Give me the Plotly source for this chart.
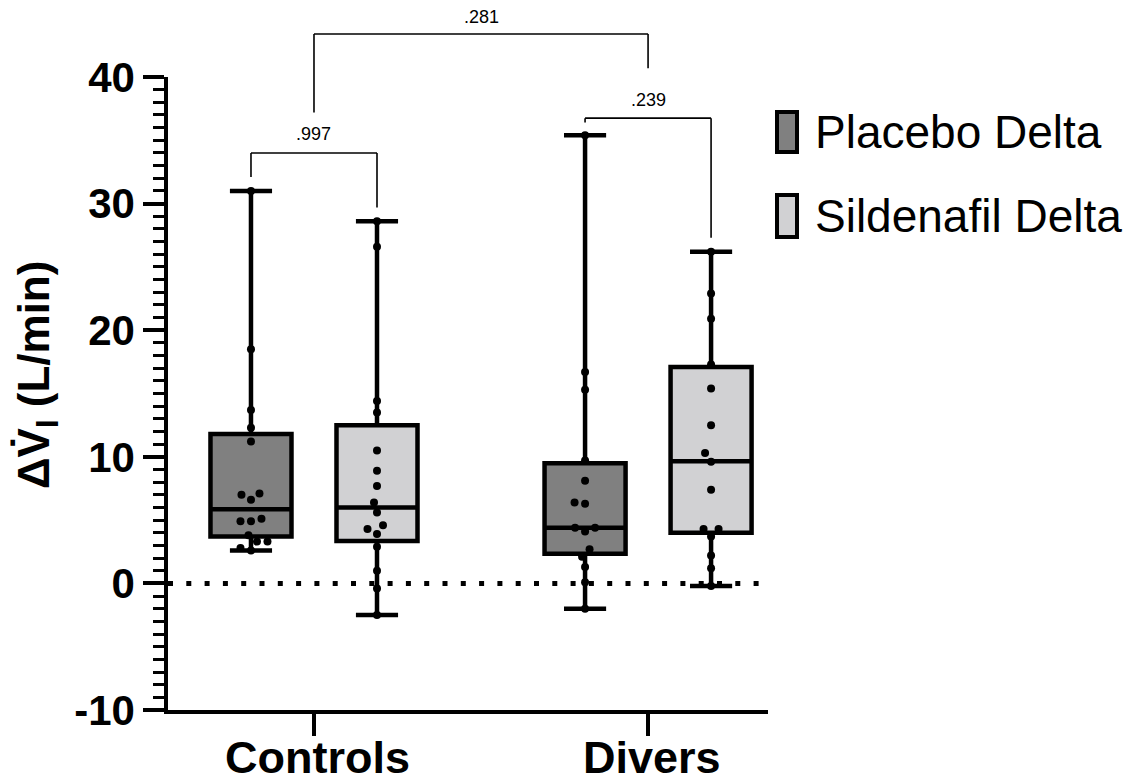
import plotly.graph_objects as go

# ---------------- data ----------------
groups = ["Controls", "Divers"]
series_names = ["Placebo Delta", "Sildenafil Delta"]

ctrl_placebo = [31.0, 18.5, 13.7, 12.3, 11.2, 7.1, 7.0, 6.6, 5.1, 4.9, 4.9, 3.8, 3.3, 3.3, 2.8, 2.6]
ctrl_sildenafil = [28.6, 26.6, 14.4, 13.5, 10.5, 8.9, 7.7, 6.4, 5.6, 4.6, 4.3, 3.9, 2.9, 1.0, -0.4, -2.5]
div_placebo = [35.4, 16.7, 15.3, 9.7, 8.1, 6.4, 6.3, 4.4, 4.4, 4.1, 2.7, 2.1, 1.3, 0.1, -2.0]
div_sildenafil = [26.2, 22.9, 20.9, 17.3, 15.4, 12.5, 10.3, 9.6, 7.4, 4.3, 4.3, 3.7, 2.2, 1.2, -0.2]

# box statistics as drawn: [Controls, Divers]
placebo_q1 = [3.7, 2.35]
placebo_median = [5.85, 4.4]
placebo_q3 = [11.8, 9.5]
placebo_min = [2.6, -2.0]
placebo_max = [31.0, 35.4]

sild_q1 = [3.35, 4.0]
sild_median = [6.0, 9.65]
sild_q3 = [12.5, 17.1]
sild_min = [-2.5, -0.2]
sild_max = [28.6, 26.2]

# comparison p-values
p_ctrl = ".997"
p_div = ".239"
p_between = ".281"

y_tickvals = [-10, 0, 10, 20, 30, 40]
y_ticktext = ["-10", "0", "10", "20", "30", "40"]

# ---------------- layout geometry ----------------
W, H = 1124, 783
ML, MR, MT, MB = 168, 356, 77, 73
PW, PH = W - ML - MR, H - MT - MB
x_range = [-0.437, 1.359]
y_range = [-10, 40]
group_pos = [0, 1]
offset = 0.1886
box_w = 0.2425

PLACEBO_FILL = "#808080"
SILD_FILL = "#d1d1d3"
FONT = "Arial, Liberation Sans, sans-serif"


def xp(v):  # data x -> paper
    return (v - x_range[0]) / (x_range[1] - x_range[0])


def yp(v):  # data y -> paper
    return (v - y_range[0]) / (y_range[1] - y_range[0])


def pxx(p):  # pixel x -> paper
    return (p - ML) / PW


def pxy(p):  # pixel y -> paper
    return (H - MB - p) / PH


def swarm(vals, center, dot=10.5):
    ppx = PW / (x_range[1] - x_range[0])
    ppy = PH / (y_range[1] - y_range[0])
    order = sorted(range(len(vals)), key=lambda i: vals[i])
    placed = []
    out = [center] * len(vals)
    for i in order:
        y = vals[i] * ppy
        chosen = 0.0
        for k in range(0, 200):
            cands = [0.0] if k == 0 else [-0.5 * k, 0.5 * k]
            ok_c = None
            for c in cands:
                if all((c - ox) ** 2 + (y - oy) ** 2 >= dot ** 2 for ox, oy in placed):
                    ok_c = c
                    break
            if ok_c is not None:
                chosen = ok_c
                break
        placed.append((chosen, y))
        out[i] = center + chosen / ppx
    return out


fig = go.Figure()

box_sets = [
    (series_names[0], PLACEBO_FILL, -offset, placebo_q1, placebo_median, placebo_q3, placebo_min, placebo_max),
    (series_names[1], SILD_FILL, offset, sild_q1, sild_median, sild_q3, sild_min, sild_max),
]
for name, fill, off, q1, med, q3, lo, hi in box_sets:
    fig.add_trace(go.Box(
        name=name,
        x=[g + off for g in group_pos],
        q1=q1, median=med, q3=q3, lowerfence=lo, upperfence=hi,
        width=box_w, whiskerwidth=0.52,
        fillcolor=fill, line=dict(color="black", width=4.5),
        boxpoints=False, showlegend=False, hoverinfo="skip",
    ))

point_sets = [
    (ctrl_placebo, group_pos[0] - offset),
    (ctrl_sildenafil, group_pos[0] + offset),
    (div_placebo, group_pos[1] - offset),
    (div_sildenafil, group_pos[1] + offset),
]
for vals, c in point_sets:
    fig.add_trace(go.Scatter(
        x=swarm(vals, c), y=vals, mode="markers",
        marker=dict(color="black", size=8),
        showlegend=False, cliponaxis=False, hoverinfo="skip",
    ))

shapes = []
# dotted zero line
shapes.append(dict(type="line", xref="x", yref="y", x0=x_range[0], x1=x_range[1], y0=0, y1=0,
                   line=dict(color="black", width=5, dash="5px,13.3px"), layer="below"))


def bracket(xa, xb, top, la, lb):
    for (x0, y0, x1, y1) in [(xa, la, xa, top), (xa, top, xb, top), (xb, top, xb, lb)]:
        shapes.append(dict(type="line", xref="paper", yref="paper",
                           x0=xp(x0), y0=yp(y0), x1=xp(x1), y1=yp(y1),
                           line=dict(color="black", width=1.6)))


bracket(group_pos[0] - offset, group_pos[0] + offset, 34.0, 32.1, 29.7)
bracket(group_pos[1] - offset, group_pos[1] + offset, 36.75, 36.4, 27.3)
bracket(group_pos[0], group_pos[1], 43.4, 37.2, 40.7)

# legend symbols
for (t, b, fill) in [(112, 152, PLACEBO_FILL), (195, 237, SILD_FILL)]:
    shapes.append(dict(type="rect", xref="paper", yref="paper",
                       x0=pxx(777), x1=pxx(797), y0=pxy(b), y1=pxy(t),
                       fillcolor=fill, line=dict(color="black", width=4)))

annotations = []
for txt, xv, yv in [(p_ctrl, group_pos[0], 35.5), (p_div, group_pos[1], 38.2), (p_between, 0.5, 44.7)]:
    annotations.append(dict(text=txt, x=xp(xv), y=yp(yv), xref="paper", yref="paper",
                            showarrow=False, xanchor="center", yanchor="middle",
                            font=dict(family=FONT, size=18, color="black")))
for txt, yc in [(series_names[0], 132), (series_names[1], 216)]:
    annotations.append(dict(text=txt, x=pxx(813), y=pxy(yc), xref="paper", yref="paper",
                            showarrow=False, xanchor="left", yanchor="middle",
                            font=dict(family=FONT, size=46, color="black")))
# category labels below the x axis
for txt, g in zip(groups, group_pos):
    annotations.append(dict(text=txt, x=xp(g) + pxx(ML + 4), y=pxy(758), xref="paper", yref="paper",
                            showarrow=False, xanchor="center", yanchor="middle",
                            font=dict(family=FONT, size=45, color="black", weight="bold")))
annotations.append(dict(text="ΔV\u0307<sub>I</sub> (L/min)", x=pxx(37), y=pxy(375), xref="paper", yref="paper",
                        showarrow=False, textangle=-90, xanchor="center", yanchor="middle",
                        font=dict(family=FONT, size=44, color="black", weight="bold")))

fig.update_layout(
    width=W, height=H,
    margin=dict(l=ML, r=MR, t=MT, b=MB, pad=0, autoexpand=False),
    paper_bgcolor="white", plot_bgcolor="white",
    shapes=shapes, annotations=annotations,
    showlegend=False,
    xaxis=dict(range=x_range, tickvals=group_pos, ticktext=groups, automargin=False,
               showticklabels=False,
               showline=True, linecolor="black", linewidth=3.5,
               ticks="outside", ticklen=22, tickwidth=3.5, tickcolor="black",
               showgrid=False, zeroline=False),
    yaxis=dict(range=y_range, tickvals=y_tickvals, ticktext=y_ticktext, automargin=False,
               showline=True, linecolor="black", linewidth=3.5,
               ticks="outside", ticklen=21, tickwidth=3.5, tickcolor="black",
               minor=dict(ticks="outside", ticklen=11, tickwidth=2.5, tickcolor="black", dtick=1, tick0=0,
                          showgrid=False),
               showgrid=False, zeroline=False,
               tickfont=dict(family=FONT, size=42, color="black", weight="bold")),
)

fig.write_html("out.html")
